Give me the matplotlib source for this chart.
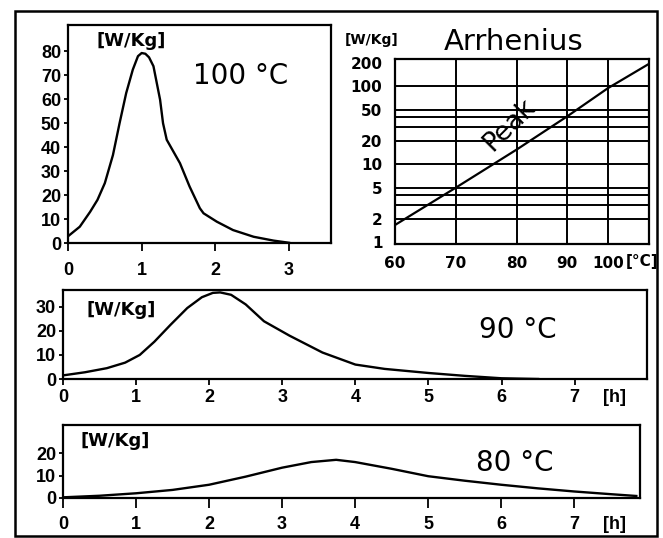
import numpy as np
import matplotlib
matplotlib.use("Agg")
import matplotlib.pyplot as plt
from matplotlib.patches import Rectangle
from matplotlib.ticker import FixedLocator, NullFormatter

# heat release rate [W/Kg] against time [h] at three storage temperatures
t_100 = [0, 0.16, 0.3, 0.4, 0.5, 0.61, 0.7, 0.79, 0.88, 0.95, 1.0, 1.05, 1.1,
         1.16, 1.25, 1.29, 1.34, 1.52, 1.65, 1.79, 1.84, 2.02, 2.24, 2.52, 2.79, 3.0]
q_100 = [2.8, 6.8, 13, 18, 25, 36.7, 50, 62.6, 72.4, 78, 79.3, 79, 77.5,
         73.8, 59.8, 50, 43.1, 33.3, 23.6, 14.5, 12.4, 8.9, 5.4, 2.6, 1.0, 0.1]

t_90 = [0, 0.3, 0.6, 0.85, 1.05, 1.25, 1.47, 1.7, 1.9, 2.05, 2.15, 2.3, 2.5,
        2.75, 3.1, 3.55, 4.0, 4.4, 5.0, 5.5, 6.0, 6.5]
q_90 = [1.5, 2.8, 4.5, 6.8, 10, 15.5, 22.5, 29.5, 34, 35.8, 36, 35, 31,
        24, 18, 11, 6, 4.2, 2.5, 1.3, 0.3, 0]

t_80 = [0, 0.5, 1, 1.5, 2, 2.5, 3, 3.4, 3.74, 4, 4.5, 5, 5.5, 6, 6.5, 7, 7.5, 7.85]
q_80 = [0.3, 1, 2.1, 3.6, 5.9, 9.5, 13.5, 16, 17, 16, 13, 9.7, 7.7, 5.9, 4.3, 2.9, 1.7, 0.9]

# Arrhenius plot: peak rate against temperature
arr_temp = [60, 70, 80, 90, 100, 110]
arr_peak = [1.65, 5, 15.5, 41, 95, 195]
arr_xticks = [60, 70, 80, 90, 100]
arr_yticks = [1, 2, 5, 10, 20, 50, 100, 200]
arr_ygrid = [2, 3, 4, 5, 10, 20, 30, 40, 50, 100]

# uneven temperature axis of the hand-drawn Arrhenius grid
scale_knots = [60, 70, 80, 90, 100, 110]
scale_pos = [0, 61, 122, 172, 213, 254]


def t_fwd(t):
    return np.interp(t, scale_knots, scale_pos)


def t_inv(p):
    return np.interp(p, scale_pos, scale_knots)


W, H = 663, 538
plt.rcParams["font.family"] = "Liberation Sans"
plt.rcParams["font.weight"] = "bold"
plt.rcParams["font.size"] = 13

fig = plt.figure(figsize=(W / 100, H / 100), dpi=100)


def px_axes(left, top, right, bottom):
    return fig.add_axes([left / W, 1 - bottom / H, (right - left) / W, (bottom - top) / H])


def frame(ax, lw=1.6):
    for s in ax.spines.values():
        s.set_linewidth(lw)
        s.set_color("black")
    ax.tick_params(direction="out", width=1.3, colors="black")


def hour_unit(ax, x, pad):
    # "[h]" sits on the tick-label row, right of the last hour
    ax.set_xticks([x], ["[h]"], minor=True)
    ax.tick_params(axis="x", which="minor", length=0, pad=pad)


big = dict(family="DejaVu Sans", weight="normal", size=20)
unit = dict(family="DejaVu Sans", weight="bold", size=13)

# 100 °C
ax1 = px_axes(68, 25, 331, 243)
ax1.plot(t_100, q_100, color="black", lw=1.7)
ax1.set_xlim(0, 3.57)
ax1.set_ylim(0, 91)
ax1.set_xticks([0, 1, 2, 3])
ax1.set_yticks(range(0, 81, 10))
ax1.tick_params(axis="x", length=6, pad=8)
ax1.tick_params(axis="y", length=3, pad=2)
frame(ax1)
ax1.text(0.11, 0.927, "[W/Kg]", transform=ax1.transAxes, ha="left", va="center", **unit)
ax1.text(0.656, 0.764, "100 °C", transform=ax1.transAxes, ha="center", va="center", **big)

# Arrhenius
ax2 = px_axes(395, 59, 649, 244)
ax2.set_yscale("log")
ax2.set_xscale("function", functions=(t_fwd, t_inv))
ax2.plot(arr_temp, arr_peak, color="black", lw=1.6)
ax2.set_xlim(60, 110)
ax2.set_ylim(0.94, 225)
lab = dict(fontfamily="DejaVu Sans", fontweight="bold", fontsize=11)
ax2.set_xticks(arr_xticks, [str(v) for v in arr_xticks], **lab)
ax2.set_yticks(arr_yticks, [str(v) for v in arr_yticks], **lab)
ax2.yaxis.remove_overlapping_locs = False
ax2.yaxis.set_minor_locator(FixedLocator(arr_ygrid))
ax2.yaxis.set_minor_formatter(NullFormatter())
ax2.xaxis.set_minor_locator(FixedLocator([]))
ax2.tick_params(which="both", length=0, pad=9)
ax2.grid(which="minor", axis="y", color="black", lw=1.4)
ax2.grid(which="major", axis="x", color="black", lw=1.4)
frame(ax2)
ax2.text(0.909, -0.097, "[°C]", transform=ax2.transAxes, ha="left", va="center",
         family="DejaVu Sans", weight="bold", size=11)
ax2.text(-0.197, 1.103, "[W/Kg]", transform=ax2.transAxes, ha="left", va="center",
         family="DejaVu Sans", weight="bold", size=10)
ax2.text(0.465, 1.05, "Arrhenius", transform=ax2.transAxes, ha="center", va="baseline",
         family="DejaVu Sans", weight="normal", size=21)
ax2.text(0.449, 0.643, "Peak", transform=ax2.transAxes, ha="center", va="center",
         rotation=45, family="DejaVu Sans", weight="normal", size=19)

# 90 °C
ax3 = px_axes(63, 290, 647, 379)
ax3.plot(t_90, q_90, color="black", lw=1.7)
ax3.set_xlim(0, 7.99)
ax3.set_ylim(0, 37)
ax3.set_xticks(range(0, 8))
ax3.set_yticks([0, 10, 20, 30])
ax3.tick_params(axis="x", length=4, pad=3)
ax3.tick_params(axis="y", length=3, pad=2)
hour_unit(ax3, 7.55, 7)
frame(ax3)
ax3.text(0.041, 0.775, "[W/Kg]", transform=ax3.transAxes, ha="left", va="center", **unit)
ax3.text(0.779, 0.55, "90 °C", transform=ax3.transAxes, ha="center", va="center", **big)

# 80 °C
ax4 = px_axes(63, 425, 640, 498)
ax4.plot(t_80, q_80, color="black", lw=1.7)
ax4.set_xlim(0, 7.9)
ax4.set_ylim(0, 32.5)
ax4.set_xticks(range(0, 8))
ax4.set_yticks([0, 10, 20])
ax4.tick_params(axis="x", length=7, pad=6)
ax4.tick_params(axis="y", length=3, pad=2)
hour_unit(ax4, 7.55, 13)
frame(ax4)
ax4.text(0.031, 0.78, "[W/Kg]", transform=ax4.transAxes, ha="left", va="center", **unit)
ax4.text(0.783, 0.48, "80 °C", transform=ax4.transAxes, ha="center", va="center", **big)

# outer border around the whole figure
fig.add_artist(Rectangle((15 / W, 1 - 536 / H), (657 - 15) / W, (536 - 11) / H,
                         transform=fig.transFigure, fill=False, lw=1.8, color="black"))

fig.savefig("out.png", dpi=100)
